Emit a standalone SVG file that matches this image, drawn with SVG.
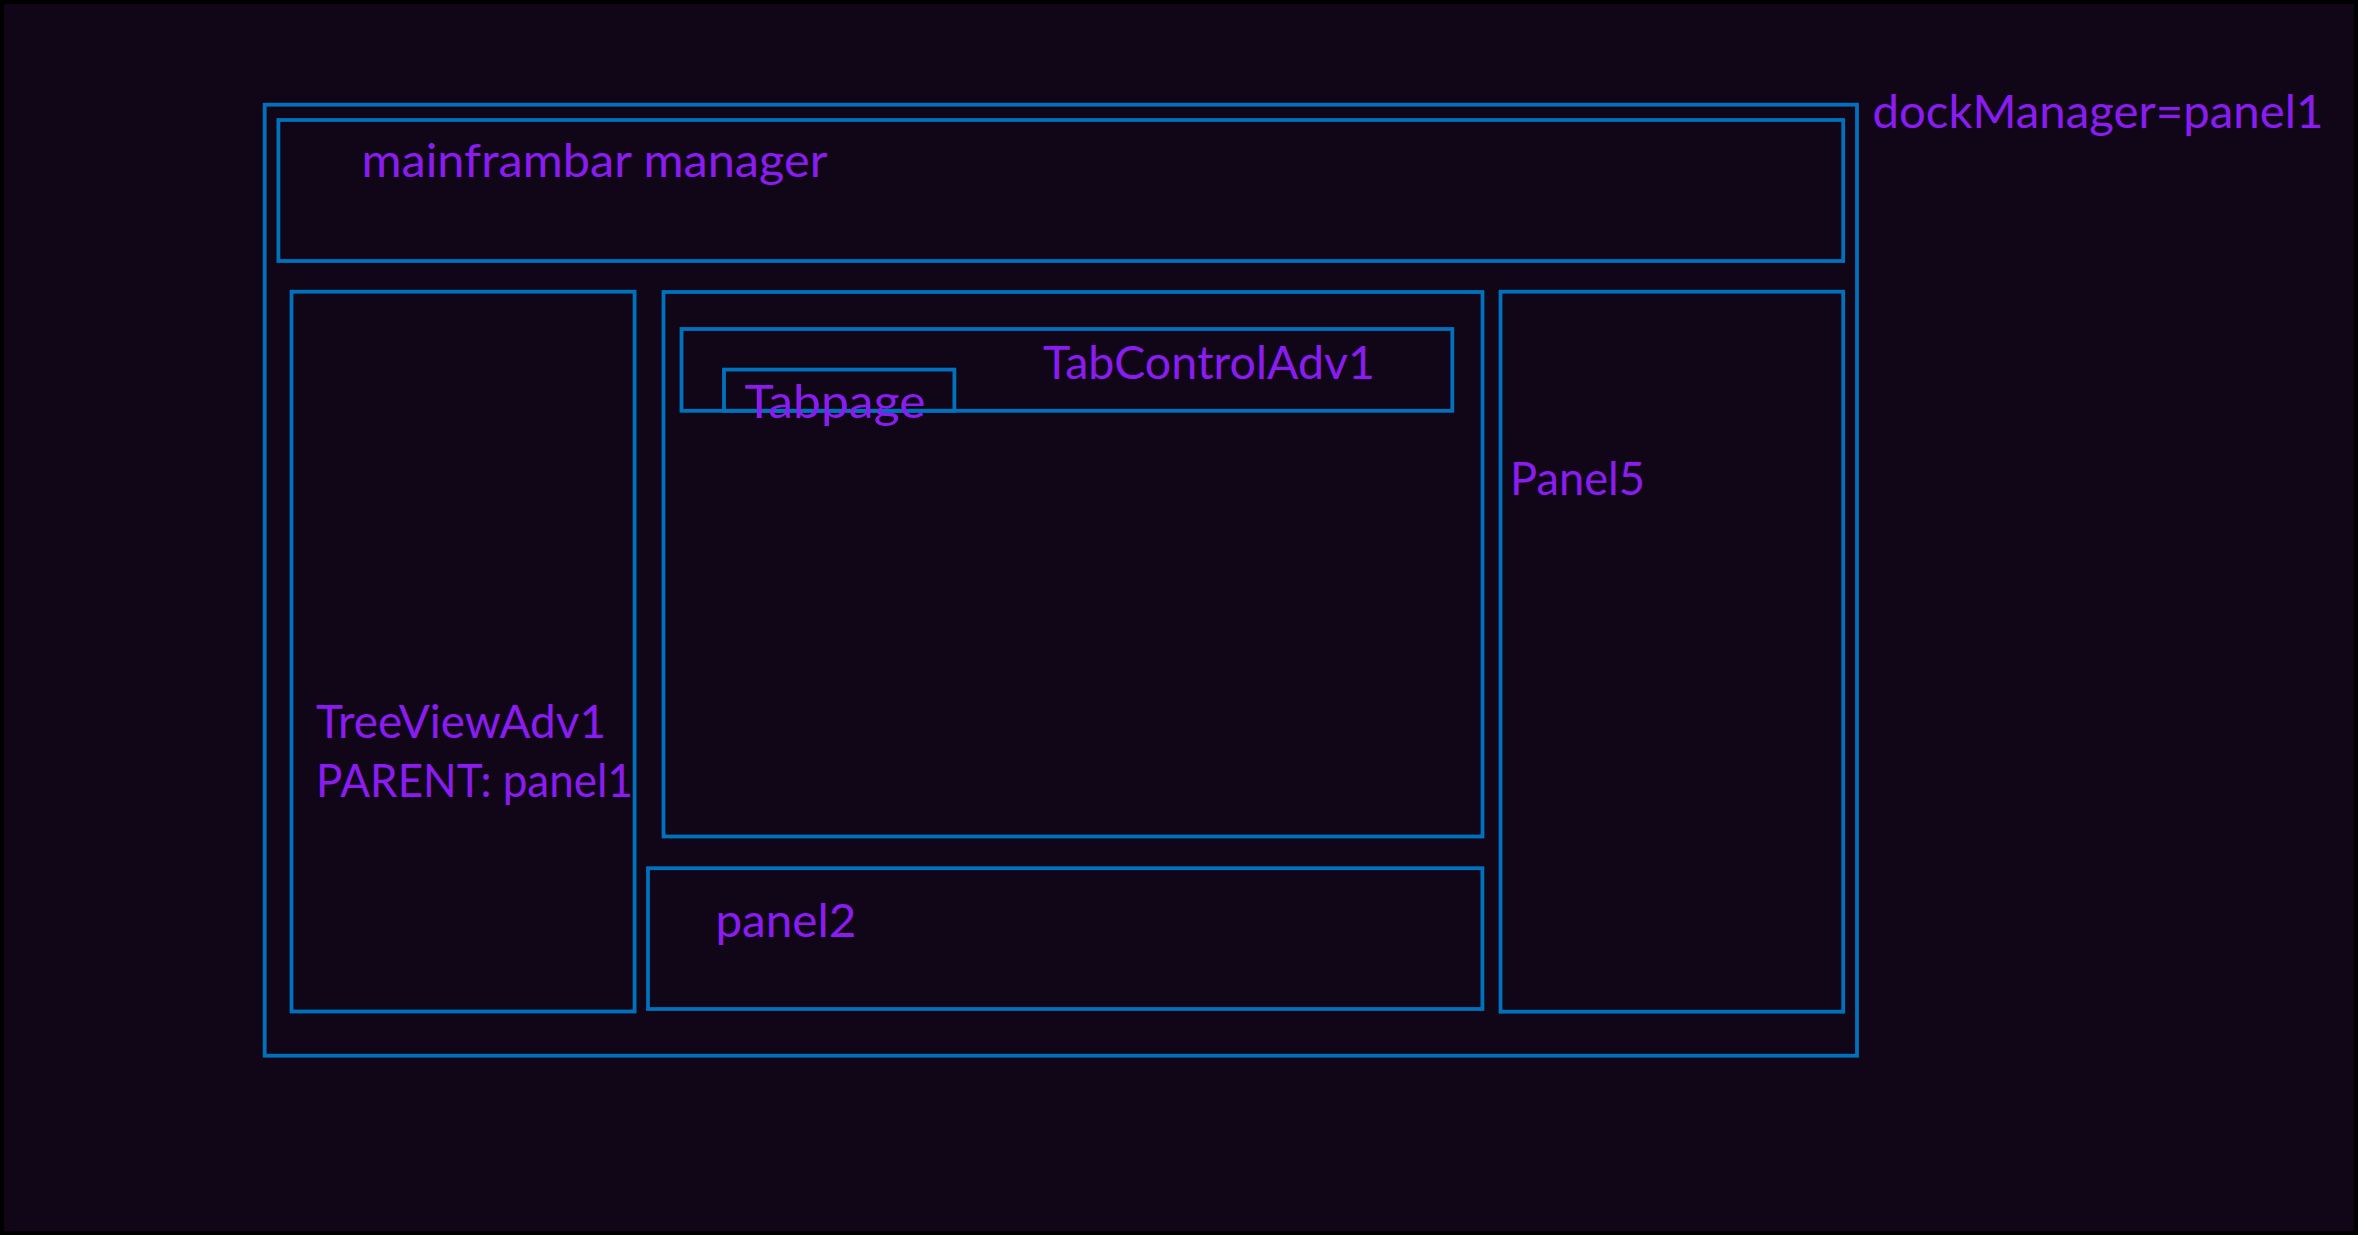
<svg xmlns="http://www.w3.org/2000/svg" width="2358" height="1235" viewBox="0 0 2358 1235">
<style>
.box{fill:none;stroke:#0071bc;stroke-width:3.8}
.lbl{font-family:Lato,"Open Sans","Liberation Sans",sans-serif;font-size:47px;fill:#8a1cf2}
</style>
<rect x="2" y="2" width="2354" height="1231" fill="#110618" stroke="#000" stroke-width="4"/>
<g id="dockManager">
<rect class="box" x="264.7" y="104.7" width="1592.3" height="951"/>
<text class="lbl" x="1872.4" y="128.3" textLength="451" lengthAdjust="spacingAndGlyphs">dockManager=panel1</text>
</g>
<g id="mainframbar">
<rect class="box" x="278.4" y="120" width="1564.8" height="141"/>
<text class="lbl" x="361.4" y="177.3" textLength="466" lengthAdjust="spacingAndGlyphs">mainframbar manager</text>
</g>
<g id="treeview">
<rect class="box" x="291.5" y="291.7" width="343.1" height="719.8"/>
<text class="lbl" x="316" y="738.3" textLength="290" lengthAdjust="spacingAndGlyphs">TreeViewAdv1</text>
<text class="lbl" x="316" y="797.3" textLength="317" lengthAdjust="spacingAndGlyphs">PARENT: panel1</text>
</g>
<g id="center">
<rect class="box" x="663.5" y="292" width="819" height="544.5"/>
</g>
<g id="tabcontrol">
<rect class="box" x="681.5" y="329" width="770.8" height="81.8"/>
<text class="lbl" x="1043" y="379" textLength="332" lengthAdjust="spacingAndGlyphs">TabControlAdv1</text>
</g>
<g id="tabpage">
<rect class="box" x="724" y="369.6" width="230.4" height="41.2"/>
<text class="lbl" x="744.5" y="418.3" textLength="181" lengthAdjust="spacingAndGlyphs">Tabpage</text>
</g>
<g id="panel2">
<rect class="box" x="648" y="868.2" width="834.4" height="140.8"/>
<text class="lbl" x="715.4" y="936.7" textLength="141" lengthAdjust="spacingAndGlyphs">panel2</text>
</g>
<g id="panel5">
<rect class="box" x="1500.5" y="291.7" width="342.7" height="720"/>
<text class="lbl" x="1510" y="495" textLength="135" lengthAdjust="spacingAndGlyphs">Panel5</text>
</g>
</svg>
